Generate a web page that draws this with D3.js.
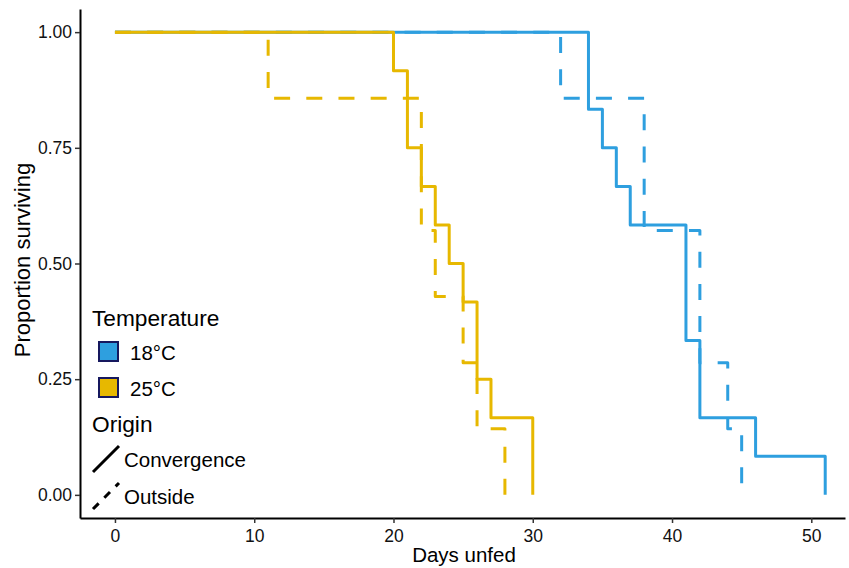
<!DOCTYPE html>
<html>
<head>
<meta charset="utf-8">
<script src="https://cdn.jsdelivr.net/npm/d3@7"></script>
<style>
  html, body { margin: 0; padding: 0; background: #fff; }
  svg { display: block; font-family: "Liberation Sans", Arial, Helvetica, sans-serif; }
</style>
</head>
<body>
<svg id="chart" width="849" height="568"></svg>
<script>
// ---- data ----
const temperatures = ["18°C", "25°C"];
const origins = ["Convergence", "Outside"];

const t18Conv = [0, 34, 35, 36, 37, 41, 42, 46, 51];
const s18Conv = [1, 10/12, 9/12, 8/12, 7/12, 4/12, 2/12, 1/12, 0];

const t18Out = [0, 32, 38, 42, 44, 45];
const s18Out = [1, 6/7, 4/7, 2/7, 1/7, 0];

const t25Conv = [0, 20, 21, 22, 23, 24, 25, 26, 27, 30];
const s25Conv = [1, 11/12, 9/12, 8/12, 7/12, 6/12, 5/12, 3/12, 2/12, 0];

const t25Out = [0, 11, 22, 23, 25, 26, 28];
const s25Out = [1, 6/7, 4/7, 3/7, 2/7, 1/7, 0];

const xTicks = [0, 10, 20, 30, 40, 50];
const yTicks = [0, 0.25, 0.5, 0.75, 1];

const tempColors = { "18°C": "#2E9FDF", "25°C": "#E7B800" };

const curves = [
  { temp: "18°C", origin: "Convergence", t: t18Conv, s: s18Conv },
  { temp: "18°C", origin: "Outside", t: t18Out, s: s18Out },
  { temp: "25°C", origin: "Convergence", t: t25Conv, s: s25Conv },
  { temp: "25°C", origin: "Outside", t: t25Out, s: s25Out }
];

// ---- layout ----
const svg = d3.select("#chart");
const x = d3.scaleLinear().domain([-2.51, 52.42]).range([80, 845]);
const y = d3.scaleLinear().domain([-0.05, 1.05]).range([518, 9]);

// curves
const line = d3.line()
  .x(d => x(d[0]))
  .y(d => y(d[1]))
  .curve(d3.curveStepAfter);

svg.append("g").selectAll("path")
  .data(curves)
  .join("path")
  .attr("d", c => line(c.t.map((tt, i) => [tt, c.s[i]])))
  .attr("fill", "none")
  .attr("stroke", c => tempColors[c.temp])
  .attr("stroke-width", 3)
  .attr("stroke-linejoin", "round")
  .attr("stroke-dasharray", c => c.origin === "Outside" ? "16,16.18" : null);

// axes
const xAxis = svg.append("g")
  .attr("transform", `translate(0,518)`)
  .call(d3.axisBottom(x).tickValues(xTicks).tickFormat(d3.format("d")).tickSize(5).tickSizeOuter(0).tickPadding(3));
const yAxis = svg.append("g")
  .attr("transform", `translate(80,0)`)
  .call(d3.axisLeft(y).tickValues(yTicks).tickFormat(d3.format(".2f")).tickSize(5).tickSizeOuter(0).tickPadding(3));

[xAxis, yAxis].forEach(a => {
  a.select(".domain").attr("stroke", "#000").attr("stroke-width", 2);
  a.selectAll(".tick line").attr("stroke", "#333").attr("stroke-width", 1.5);
  a.selectAll(".tick text").attr("fill", "#111").attr("font-size", 17.5)
    .attr("font-family", "'Liberation Sans', Arial, sans-serif");
});
xAxis.selectAll(".tick text").attr("dy", "0.9em");

// axis titles
svg.append("text")
  .attr("x", 464).attr("y", 562)
  .attr("text-anchor", "middle")
  .attr("font-size", 20.5)
  .attr("fill", "#000")
  .text("Days unfed");

svg.append("text")
  .attr("transform", "translate(30,260) rotate(-90)")
  .attr("text-anchor", "middle")
  .attr("font-size", 22)
  .attr("fill", "#000")
  .text("Proportion surviving");

// legend
const leg = svg.append("g");
leg.append("text").attr("x", 92).attr("y", 326).attr("font-size", 22.7).text("Temperature");
temperatures.forEach((tp, i) => {
  const yy = 341 + i * 36;
  leg.append("rect")
    .attr("x", 99).attr("y", yy + 1).attr("width", 19).attr("height", 19)
    .attr("fill", tempColors[tp]).attr("stroke", "#16185e").attr("stroke-width", 2);
  leg.append("text").attr("x", 130).attr("y", yy + 19).attr("font-size", 20.5).text(tp);
});
leg.append("text").attr("x", 92).attr("y", 432).attr("font-size", 22.7).text("Origin");
origins.forEach((og, i) => {
  const yy = 446 + i * 37;
  leg.append("line")
    .attr("x1", 93).attr("y1", yy + 26).attr("x2", 119).attr("y2", yy)
    .attr("stroke", "#000").attr("stroke-width", 3)
    .attr("stroke-dasharray", og === "Outside" ? "8,8" : null);
  leg.append("text").attr("x", 124).attr("y", yy + 21).attr("font-size", 20.5).text(og);
});
</script>
</body>
</html>
